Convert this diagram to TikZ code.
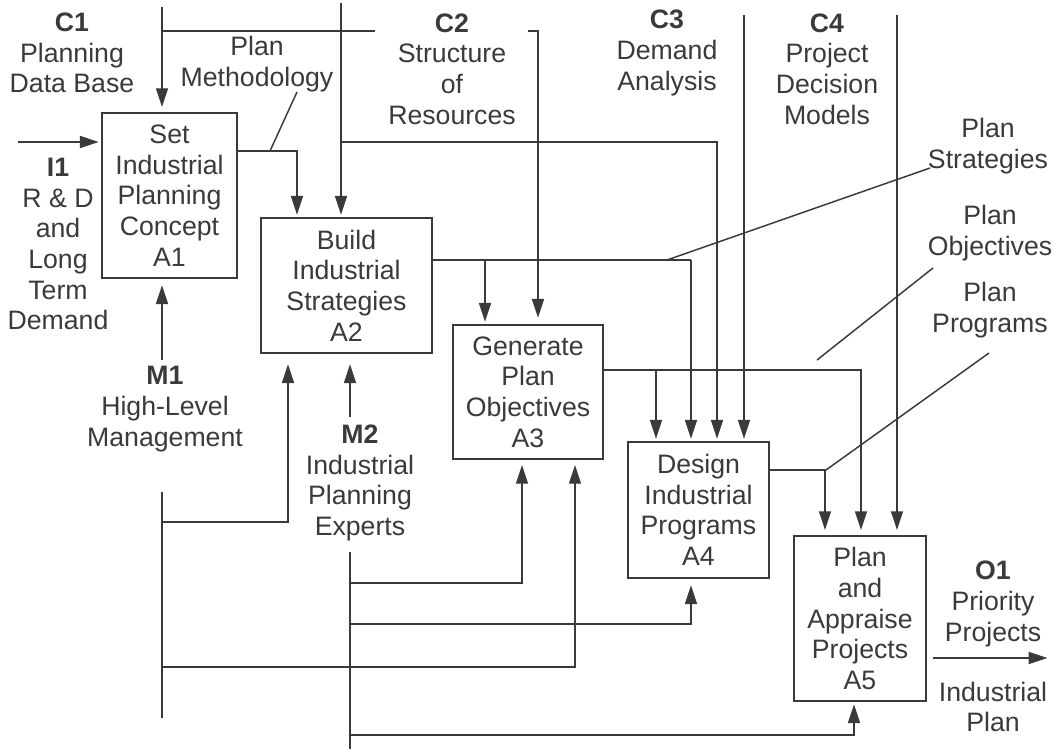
\documentclass[tikz,border=0pt]{standalone}
\usepackage{fontspec}
\setmainfont{Liberation Sans}
\usetikzlibrary{arrows.meta}
\definecolor{ink}{RGB}{58,58,58}
\begin{document}
\begin{tikzpicture}[x=0.75pt,y=-0.75pt,
  every node/.style={font=\fontsize{20}{23}\selectfont, text=ink, align=center, inner sep=0pt},
  box/.style={draw=ink, line width=1.1pt},
  wire/.style={draw=ink, line width=1.1pt},
  arr/.style={wire, -{Triangle[length=14pt,width=9pt]}, shorten >=2pt}]
\useasboundingbox (0,0) rectangle (1054,749);
\fill[white] (0,0) rectangle (1054,749);

% activity boxes
\node[box, minimum width=101.25pt, minimum height=123.75pt] (A1) at (169.5,195.5) {Set\\Industrial\\Planning\\Concept\\A1};
\node[box, minimum width=128.25pt, minimum height=101.25pt] (A2) at (346.5,285.5) {Build\\Industrial\\Strategies\\A2};
\node[box, minimum width=112.5pt, minimum height=100.5pt] (A3) at (528,392) {Generate\\Plan\\Objectives\\A3};
\node[box, minimum width=105.75pt, minimum height=102pt] (A4) at (698.5,510) {Design\\Industrial\\Programs\\A4};
\node[box, minimum width=99pt, minimum height=123.75pt] (A5) at (860,618.5) {Plan\\and\\Appraise\\Projects\\A5};

% labels
\node (c1l) at (72,53) {\textbf{C1}\\Planning\\Data Base};
\node (pml) at (257,64) {Plan\\Methodology};
\node (c2l) at (452,69) {\textbf{C2}\\Structure\\of\\Resources};
\node (c3l) at (667,53) {\textbf{C3}\\Demand\\Analysis};
\node (c4l) at (827,69) {\textbf{C4}\\Project\\Decision\\Models};
\node (psl) at (988,146) {Plan\\Strategies};
\node (pol) at (990,233) {Plan\\Objectives};
\node (ppl) at (990,310) {Plan\\Programs};
\node (i1l) at (58,244) {\textbf{I1}\\R \& D\\and\\Long\\Term\\Demand};
\node (m1l) at (165,409) {\textbf{M1}\\High-Level\\Management};
\node (m2l) at (360,483) {\textbf{M2}\\Industrial\\Planning\\Experts};
\node (o1l) at (993,604) {\textbf{O1}\\Priority\\Projects};
\node (ipl) at (993,707) {Industrial\\Plan};

% free ends and bends
\coordinate (c1) at (162,7);
\coordinate (pm1) at (162,31);
\coordinate (pm2) at (375,31);
\coordinate (c1b) at (341,3);
\coordinate (j1) at (341,142);
\coordinate (k1) at (717,142);
\coordinate (c2) at (528,31);
\coordinate (c2b) at (538,31);
\coordinate (c3) at (744,15);
\coordinate (c4) at (897,15);
\coordinate (i1) at (18,142);
\coordinate (o1) at (297,151);
\coordinate (lm1) at (270,151);
\coordinate (lm2) at (297,92);
\coordinate (o2) at (691,260);
\coordinate (o2a) at (485,260);
\coordinate (ls1) at (667,260);
\coordinate (ls2) at (930,168);
\coordinate (o3) at (861,370);
\coordinate (o3a) at (656,370);
\coordinate (lo1) at (817,360);
\coordinate (lo2) at (933,268);
\coordinate (o4) at (825,470);
\coordinate (lp1) at (826,470);
\coordinate (lp2) at (989,353);
\coordinate (out) at (1050,658);
\coordinate (m1u) at (162,360);
\coordinate (m1t) at (162,492);
\coordinate (m1e) at (162,718);
\coordinate (m1a) at (162,522);
\coordinate (m1b) at (288,522);
\coordinate (m1c) at (162,667);
\coordinate (m1d) at (575,667);
\coordinate (m2u) at (350,417);
\coordinate (m2t) at (350,552);
\coordinate (m2e) at (350,749);
\coordinate (m2a) at (350,583);
\coordinate (m2b) at (522,583);
\coordinate (m2c) at (350,624);
\coordinate (m2d) at (691,624);
\coordinate (m2f) at (350,735);
\coordinate (m2g) at (854,735);

% controls
\draw[arr, shorten >=4pt] (c1) -- (c1 |- A1.north);
\draw[wire] (pm1) -- (pm2);
\draw[arr] (c1b) -- (c1b |- A2.north);
\draw[arr] (j1) -- (k1) -- (k1 |- A4.north);
\draw[arr, shorten >=5pt] (c2) -- (c2b) -- (c2b |- A3.north);
\draw[arr] (c3) -- (c3 |- A4.north);
\draw[arr, shorten >=4pt] (c4) -- (c4 |- A5.north);

% input
\draw[arr] (i1) -- (i1 -| A1.west);

% outputs between activities
\draw[arr] (o1 -| A1.east) -- (o1) -- (o1 |- A2.north);
\draw[wire] (lm1) -- (lm2);
\draw[wire] (o2 -| A2.east) -- (o2);
\draw[arr] (o2) -- (o2 |- A4.north);
\draw[arr] (o2a) -- (o2a |- A3.north);
\draw[wire] (ls1) -- (ls2);
\draw[arr, shorten >=4pt] (o3 -| A3.east) -- (o3) -- (o3 |- A5.north);
\draw[arr] (o3a) -- (o3a |- A4.north);
\draw[wire] (lo1) -- (lo2);
\draw[arr, shorten >=4pt] (o4 -| A4.east) -- (o4) -- (o4 |- A5.north);
\draw[wire] (lp1) -- (lp2);
\draw[arr, shorten <=5pt] (out -| A5.east) -- (out);

% mechanisms
\draw[arr, shorten >=5pt] (m1u) -- (m1u |- A1.south);
\draw[wire] (m1t) -- (m1e);
\draw[arr, shorten >=8pt] (m1a) -- (m1b) -- (m1b |- A2.south);
\draw[arr, shorten >=4pt] (m1c) -- (m1d) -- (m1d |- A3.south);
\draw[arr, shorten >=8pt] (m2u) -- (m2u |- A2.south);
\draw[wire] (m2t) -- (m2e);
\draw[arr, shorten >=4pt] (m2a) -- (m2b) -- (m2b |- A3.south);
\draw[arr, shorten >=5pt] (m2c) -- (m2d) -- (m2d |- A4.south);
\draw[arr] (m2f) -- (m2g) -- (m2g |- A5.south);
\end{tikzpicture}
\end{document}
